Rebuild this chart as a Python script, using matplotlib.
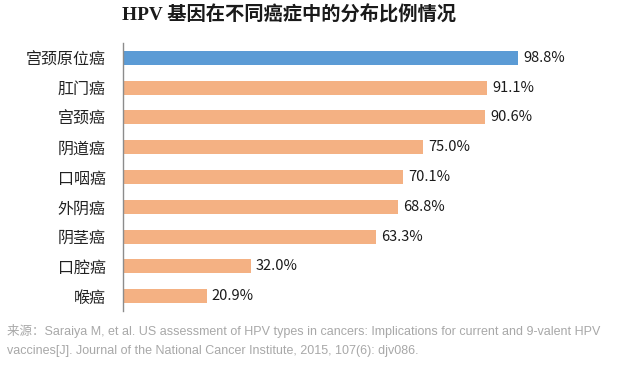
import matplotlib
matplotlib.use('Agg')
from matplotlib import pyplot as plt

# datos
categorias = ['宫颈原位癌', '肛门癌', '宫颈癌', '阴道癌', '口咽癌', '外阴癌', '阴茎癌', '口腔癌', '喉癌']
valores = [98.8, 91.1, 90.6, 75.0, 70.1, 68.8, 63.3, 32.0, 20.9]
titulo = 'HPV 基因在不同癌症中的分布比例情况'
fuente_1 = '来源：Saraiya M, et al. US assessment of HPV types in cancers: Implications for current and 9-valent HPV'
fuente_2 = 'vaccines[J]. Journal of the National Cancer Institute, 2015, 107(6): djv086.'

plt.rcParams['font.family'] = ['Noto Sans CJK SC', 'DejaVu Sans']

W, H = 635, 370
fig = plt.figure(figsize=(W / 100, H / 100), dpi=100)
ax = fig.add_axes([123 / W, 1 - 311 / H, 400 / W, 268 / H])

colores = ['#5B9BD5'] + ['#F4B183'] * (len(valores) - 1)
y = list(range(len(categorias)))
ax.barh(y, valores, height=0.47, color=colores)

for i, v in enumerate(valores):
    ax.text(v + 1.2, i, f'{v:.1f}%', va='center', ha='left', fontsize=10.5,
            color='#1a1a1a', clip_on=False)

ax.set_xlim(0, 100)
ax.set_ylim(len(categorias) - 0.5, -0.5)
ax.set_yticks(y)
ax.set_yticklabels(categorias, fontsize=11.5, color='#222222')
ax.tick_params(axis='y', length=0, pad=12.5)
ax.set_xticks([])
for s in ['top', 'right', 'bottom']:
    ax.spines[s].set_visible(False)
ax.spines['left'].set_color('#8c8c8c')
ax.spines['left'].set_linewidth(1.0)

fig.text(122 / W, 1 - 15 / H, titulo, ha='left', va='center', fontsize=13.9,
         fontweight='bold', family=['Liberation Serif', 'Noto Sans CJK SC'], color='#1a1a1a')

fig.text(7 / W, 1 - 331 / H, fuente_1, ha='left', va='center', fontsize=9.0,
         family=['Liberation Sans', 'Noto Sans CJK SC'], color='#a8a8a8')
fig.text(7 / W, 1 - 351 / H, fuente_2, ha='left', va='center', fontsize=9.0,
         family=['Liberation Sans', 'Noto Sans CJK SC'], color='#a8a8a8')

fig.savefig('out.png', dpi=100)
